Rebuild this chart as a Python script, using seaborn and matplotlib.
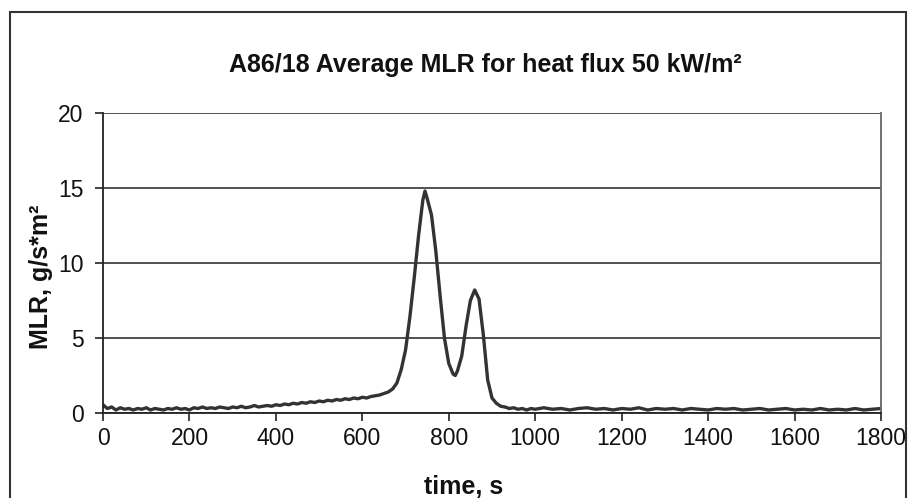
import matplotlib
matplotlib.use("Agg")
import matplotlib.pyplot as plt
import matplotlib.patches as mpatches
import seaborn as sns
import pandas as pd

# ---- data ----
time_s = [0, 10, 20, 30, 40, 50, 60, 70, 80, 90,
          100, 110, 120, 130, 140, 150, 160, 170, 180, 190,
          200, 210, 220, 230, 240, 250, 260, 270, 280, 290,
          300, 310, 320, 330, 340, 350, 360, 370, 380, 390,
          400, 410, 420, 430, 440, 450, 460, 470, 480, 490,
          500, 510, 520, 530, 540, 550, 560, 570, 580, 590,
          600, 610, 620, 630, 640, 650, 660, 670, 680, 690,
          700, 710, 720, 730, 740, 745, 750, 760, 770, 780,
          790, 800, 810, 815, 820, 830, 840, 850, 860, 870,
          880, 890, 900, 910, 920, 930, 940, 950, 960, 970,
          980, 990, 1000, 1020, 1040, 1060, 1080, 1100, 1120, 1140,
          1160, 1180, 1200, 1220, 1240, 1260, 1280, 1300, 1320, 1340,
          1360, 1380, 1400, 1420, 1440, 1460, 1480, 1500, 1520, 1540,
          1560, 1580, 1600, 1620, 1640, 1660, 1680, 1700, 1720, 1740,
          1760, 1780, 1800]
mlr = [0.55, 0.3, 0.4, 0.2, 0.35, 0.25, 0.3, 0.2, 0.3, 0.25,
       0.35, 0.2, 0.3, 0.25, 0.2, 0.3, 0.25, 0.35, 0.25, 0.3,
       0.2, 0.35, 0.3, 0.4, 0.3, 0.35, 0.3, 0.4, 0.35, 0.3,
       0.4, 0.35, 0.45, 0.35, 0.4, 0.5, 0.4, 0.45, 0.5, 0.45,
       0.55, 0.5, 0.6, 0.55, 0.65, 0.6, 0.7, 0.65, 0.75, 0.7,
       0.8, 0.75, 0.85, 0.8, 0.9, 0.85, 0.95, 0.9, 1.0, 0.95,
       1.05, 1.0, 1.1, 1.15, 1.2, 1.3, 1.4, 1.6, 2.0, 2.9,
       4.2, 6.4, 9.0, 11.8, 14.2, 14.8, 14.3, 13.2, 10.8, 7.8,
       5.0, 3.3, 2.6, 2.5, 2.8, 3.8, 5.8, 7.5, 8.2, 7.6,
       5.2, 2.2, 1.0, 0.65, 0.45, 0.4, 0.3, 0.35, 0.25, 0.3,
       0.2, 0.3, 0.25, 0.35, 0.25, 0.3, 0.2, 0.3, 0.35, 0.25,
       0.3, 0.2, 0.3, 0.25, 0.35, 0.2, 0.3, 0.25, 0.3, 0.2,
       0.3, 0.25, 0.2, 0.3, 0.25, 0.3, 0.2, 0.25, 0.3, 0.2,
       0.25, 0.3, 0.2, 0.25, 0.2, 0.3, 0.2, 0.25, 0.2, 0.3,
       0.2, 0.25, 0.3]
x_ticks = [0, 200, 400, 600, 800, 1000, 1200, 1400, 1600, 1800]
y_ticks = [0, 5, 10, 15, 20]
title_text = "A86/18 Average MLR for heat flux 50 kW/m²"
x_label = "time, s"
y_label = "MLR, g/s*m²"

df = pd.DataFrame({"time": time_s, "mlr": mlr})

sns.set_theme(style="white")
plt.rcParams["font.family"] = ["Liberation Sans", "DejaVu Sans"]

fig = plt.figure(figsize=(9.10, 4.98), dpi=100)
ax = fig.add_axes([103 / 910, 1 - 413 / 498, (881 - 103) / 910, (413 - 113) / 498])

sns.lineplot(data=df, x="time", y="mlr", ax=ax, color="#333333", linewidth=2.4)

ax.set_xlim(0, 1800)
ax.set_ylim(0, 20)
ax.set_xticks(x_ticks)
ax.set_yticks(y_ticks)
ax.set_xticklabels([str(v) for v in x_ticks], fontsize=16.5, color="#111111")
ax.set_yticklabels([str(v) for v in y_ticks], fontsize=16.5, color="#111111")
ax.tick_params(axis="x", direction="out", length=6, width=1.2, color="#222222",
               bottom=True, pad=4)
ax.tick_params(axis="y", direction="out", length=6, width=1.2, color="#222222",
               left=True, pad=8)
ax.yaxis.grid(True, color="#333333", linewidth=1.2)
ax.xaxis.grid(False)
for side in ["left", "bottom", "right"]:
    ax.spines[side].set_visible(True)
    ax.spines[side].set_color("#222222")
    ax.spines[side].set_linewidth(1.3)
ax.spines["right"].set_color("#666666")
ax.spines["top"].set_visible(False)

ax.set_xlabel(x_label, fontsize=18, fontweight="bold", color="#111111")
ax.xaxis.label.set_va("center")
ax.xaxis.set_label_coords((464 - 103) / 778, (413 - 487) / 300)
ax.set_ylabel(y_label, fontsize=18, fontweight="bold", color="#111111")
ax.yaxis.label.set_va("center")
ax.yaxis.label.set_ha("center")
ax.yaxis.set_label_coords((41 - 103) / 778, (413 - 277) / 300)

fig.text(485 / 910, 1 - 65 / 498, title_text, ha="center", va="center",
         fontsize=18, fontweight="bold", color="#111111")

# outer chart border
border = mpatches.Rectangle((10 / 910, -0.05), (906 - 10) / 910, (1 - 12 / 498) + 0.05,
                            transform=fig.transFigure, fill=False,
                            edgecolor="#333333", linewidth=1.5)
fig.patches.append(border)

fig.savefig("out.png", dpi=100)
